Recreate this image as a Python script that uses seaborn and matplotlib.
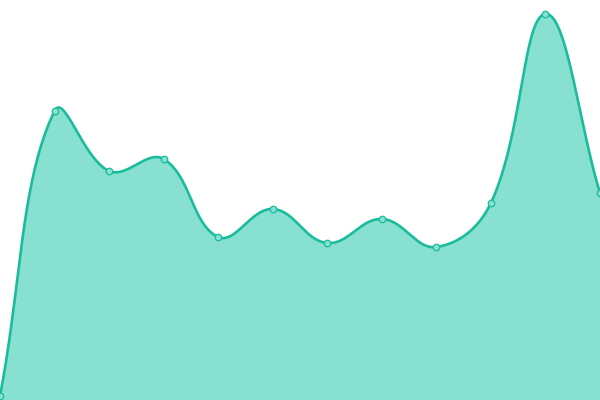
import numpy as np
import pandas as pd
import matplotlib
matplotlib.use("Agg")
import matplotlib.pyplot as plt
import seaborn as sns

# data (y in chart units, 0..400)
idx = list(range(12))
values = [4, 289, 229, 241, 163, 191, 157, 181, 153, 197, 386, 207]

line_color = "#1abc9c"
fill_color = "#88e0d0"

W, H = 600, 400
x_max, y_max = 11, 400


# bezier smoothing with tension 0.4, done in pixel space
def smooth(xs, ys, tension=0.4, steps=40):
    px = np.asarray(xs, float) * W / x_max
    py = np.asarray(ys, float) * H / y_max
    pts = np.column_stack([px, py])
    n = len(pts)
    prev_cp, next_cp = [], []
    for i in range(n):
        p0 = pts[max(i - 1, 0)]
        p1 = pts[i]
        p2 = pts[min(i + 1, n - 1)]
        d01 = np.hypot(*(p1 - p0))
        d12 = np.hypot(*(p2 - p1))
        tot = d01 + d12
        fa = tension * d01 / tot if tot else 0
        fb = tension * d12 / tot if tot else 0
        prev_cp.append(p1 - fa * (p2 - p0))
        next_cp.append(p1 + fb * (p2 - p0))
    out = []
    t = np.linspace(0, 1, steps, endpoint=False)[:, None]
    for i in range(n - 1):
        a, b, c, d = pts[i], next_cp[i], prev_cp[i + 1], pts[i + 1]
        seg = (1 - t)**3 * a + 3 * (1 - t)**2 * t * b + 3 * (1 - t) * t**2 * c + t**3 * d
        out.append(seg)
    out.append(pts[-1:])
    out = np.vstack(out)
    return out[:, 0] * x_max / W, out[:, 1] * y_max / H


sx, sy = smooth(idx, values)
curve = pd.DataFrame({"x": sx, "y": sy})
points = pd.DataFrame({"x": idx, "y": values})

fig = plt.figure(figsize=(6, 4), dpi=100)
ax = fig.add_axes([0, 0, 1, 1])

ax.fill_between(curve["x"], curve["y"], 0, color=fill_color, linewidth=0)
sns.lineplot(data=curve, x="x", y="y", ax=ax, color=line_color, linewidth=1.9, sort=False)
sns.scatterplot(data=points, x="x", y="y", ax=ax, s=22, color=fill_color,
                edgecolor=line_color, linewidth=0.9, zorder=5, clip_on=False)

ax.set_xlim(0, x_max)
ax.set_ylim(0, y_max)
ax.axis("off")

plt.savefig("out.png", dpi=100)
